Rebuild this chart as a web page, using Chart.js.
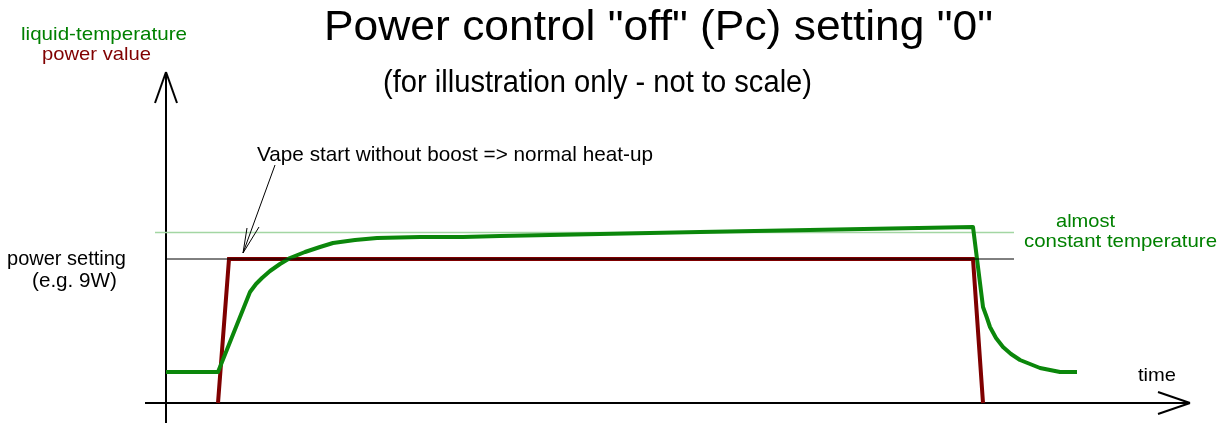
<!DOCTYPE html>
<html>
<head>
<meta charset="utf-8">
<script src="https://cdn.jsdelivr.net/npm/chart.js@4/dist/chart.umd.min.js"></script>
<style>
  html, body { margin: 0; padding: 0; background: #fff; }
  #wrap { width: 1232px; height: 423px; }
</style>
</head>
<body>
<div id="wrap"><canvas id="graphique" width="1232" height="423"></canvas></div>
<script>
// time axis: 0 = y axis, values in arbitrary "time" units
var tempTime  = [0, 52, 84, 90, 96, 104, 114, 124, 139, 154, 167, 189, 211, 254, 297, 334, 534, 807, 817, 821, 824, 830, 837, 845, 854, 864, 874, 894, 911];
var tempValue = [31, 31, 111, 119, 125, 132, 139, 145, 151, 156, 160, 163, 165, 166, 166, 167, 171, 176, 96, 85, 76, 65, 56, 49, 43, 39, 35, 31, 31];

var powerTime  = [52, 63, 807, 817];
var powerValue = [0, 144, 144, 0];

var setTempTime  = [-11, 848];
var setTempValue = [170.5, 170.5];
var setPowerTime  = [0, 848];
var setPowerValue = [144, 144];

function pts(xs, ys) {
    return xs.map(function(x, i) { return { x: x, y: ys[i] }; });
}

var FONT = '"Liberation Sans", Arial, sans-serif';

// text drawn at a given width (the original uses a narrow face)
function texte(ctx, s, x, base, w, size, color) {
    ctx.font = size + 'px ' + FONT;
    var m = ctx.measureText(s).width;
    ctx.save();
    ctx.translate(x, base);
    ctx.scale(w / m, 1);
    ctx.fillStyle = color;
    ctx.textBaseline = 'alphabetic';
    ctx.textAlign = 'left';
    ctx.fillText(s, 0, 0);
    ctx.restore();
}

function ligne(ctx, x1, y1, x2, y2) {
    ctx.beginPath();
    ctx.moveTo(x1, y1);
    ctx.lineTo(x2, y2);
    ctx.stroke();
}

var decor = {
    id: 'decor',
    beforeDatasetsDraw: function(chart) {
        var ctx = chart.ctx, sx = chart.scales.x, sy = chart.scales.y;
        var x0 = sx.getPixelForValue(0), y0 = sy.getPixelForValue(0);
        var top = sy.getPixelForValue(sy.max), bottom = sy.getPixelForValue(sy.min);
        var left = sx.getPixelForValue(sx.min), right = sx.getPixelForValue(sx.max);
        ctx.save();
        ctx.strokeStyle = '#000';
        ctx.lineWidth = 2;
        // y axis with arrow
        ligne(ctx, x0, bottom, x0, top);
        ligne(ctx, x0, top, x0 - 11, top + 31);
        ligne(ctx, x0, top, x0 + 11, top + 31);
        // x axis with arrow
        ligne(ctx, left, y0, right, y0);
        ligne(ctx, right, y0, right - 32, y0 - 11);
        ligne(ctx, right, y0, right - 32, y0 + 11);
        ctx.restore();
    },
    afterDatasetsDraw: function(chart) {
        var ctx = chart.ctx, sx = chart.scales.x, sy = chart.scales.y;
        texte(ctx, 'Power control "off" (Pc) setting "0"', 324, 40, 669, 43, '#000');
        texte(ctx, '(for illustration only - not to scale)', 383, 92, 429, 31, '#000');
        texte(ctx, 'liquid-temperature', 21, 40, 166, 19, '#008000');
        texte(ctx, 'power value', 42, 60, 109, 19, '#800000');
        texte(ctx, 'Vape start without boost => normal heat-up', 257, 161, 396, 21, '#000');
        texte(ctx, 'power setting', 7, 265, 119, 20, '#000');
        texte(ctx, '(e.g. 9W)', 32, 287, 85, 20, '#000');
        texte(ctx, 'almost', 1056, 227, 59, 19, '#008000');
        texte(ctx, 'constant temperature', 1024, 247, 193, 19, '#008000');
        texte(ctx, 'time', 1138, 381, 38, 19, '#000');

        // annotation arrow toward the power step
        var tx = sx.getPixelForValue(77), ty = sy.getPixelForValue(150);
        var fx = sx.getPixelForValue(109), fy = sy.getPixelForValue(238);
        ctx.save();
        ctx.strokeStyle = '#000';
        ctx.lineWidth = 1;
        ligne(ctx, fx, fy, tx, ty);
        ligne(ctx, tx, ty, tx + 4, ty - 25);
        ligne(ctx, tx, ty, tx + 16, ty - 26);
        ctx.restore();
    }
};

document.addEventListener('DOMContentLoaded', function() {
    var ctx = document.getElementById('graphique').getContext('2d');
    var graphique = new Chart(ctx, {
        type: 'line',
        data: {
            datasets: [{
                label: 'power setting',
                data: pts(setPowerTime, setPowerValue),
                borderColor: '#000',
                borderWidth: 1,
                pointRadius: 0,
                clip: false,
                order: 0
            }, {
                label: 'liquid-temperature',
                data: pts(tempTime, tempValue),
                borderColor: '#0b870b',
                borderWidth: 4,
                borderJoinStyle: 'round',
                pointRadius: 0,
                tension: 0,
                clip: false,
                order: 1
            }, {
                label: 'power value',
                data: pts(powerTime, powerValue),
                borderColor: '#7f0000',
                borderWidth: 4,
                pointRadius: 0,
                clip: false,
                order: 2
            }, {
                label: 'set temperature',
                data: pts(setTempTime, setTempValue),
                borderColor: '#a3d6a3',
                borderWidth: 1.5,
                pointRadius: 0,
                clip: false,
                order: 3
            }]
        },
        options: {
            responsive: false,
            animation: false,
            layout: { padding: { left: 145, right: 42, top: 72, bottom: 0 } },
            scales: {
                x: { type: 'linear', min: -21, max: 1024, display: false },
                y: { type: 'linear', min: -20, max: 331, display: false }
            },
            plugins: {
                legend: { display: false },
                tooltip: { enabled: false }
            }
        },
        plugins: [decor]
    });
});
</script>
</body>
</html>
